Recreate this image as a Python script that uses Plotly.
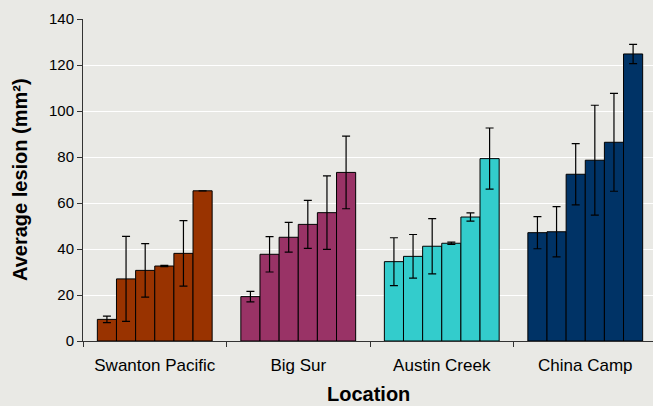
import plotly.graph_objects as go

locations = ["Swanton Pacific", "Big Sur", "Austin Creek", "China Camp"]
colors = ["#993300", "#993366", "#33CCCC", "#003366"]

swanton = [9.4, 27.0, 30.7, 32.6, 38.1, 65.3]
swanton_err = [1.4, 18.5, 11.6, 0.3, 14.2, 0.0]
big_sur = [19.3, 37.7, 45.1, 50.7, 55.8, 73.3]
big_sur_err = [2.3, 7.7, 6.5, 10.4, 16.0, 15.8]
austin = [34.5, 36.8, 41.2, 42.5, 53.9, 79.3]
austin_err = [10.4, 9.5, 12.0, 0.5, 1.8, 13.3]
china = [47.1, 47.5, 72.5, 78.6, 86.4, 124.8]
china_err = [7.0, 10.9, 13.3, 23.9, 21.3, 4.2]

y_ticks = [0, 20, 40, 60, 80, 100, 120, 140]

groups = [swanton, big_sur, austin, china]
group_errs = [swanton_err, big_sur_err, austin_err, china_err]

fig = go.Figure()
for i in range(6):
    fig.add_trace(go.Bar(
        x=locations,
        y=[g[i] for g in groups],
        error_y=dict(type="data", array=[e[i] for e in group_errs], visible=True,
                     color="black", thickness=1.2, width=4),
        marker=dict(color=colors, line=dict(color="black", width=1)),
        showlegend=False,
    ))

bg = "#e9e9e5"
fig.update_layout(
    width=653, height=406,
    margin=dict(l=83, r=0, t=19, b=65),
    paper_bgcolor=bg, plot_bgcolor=bg,
    barmode="group", bargap=0.2, bargroupgap=0,
    font=dict(family="Liberation Sans, Arial", color="black"),
    xaxis=dict(
        type="category", range=[-0.5, 3.472],
        showline=True, linecolor="#333333", linewidth=1,
        ticks="outside", tickson="boundaries", ticklen=5, tickcolor="#333333",
        tickfont=dict(size=17), ticklabelstandoff=9,
        showgrid=False, zeroline=False,
    ),
    yaxis=dict(
        range=[0, 140], tickvals=y_ticks,
        showline=True, linecolor="#333333", linewidth=1,
        ticks="outside", ticklen=5, tickcolor="#333333",
        tickfont=dict(size=15),
        showgrid=True, gridcolor="white", gridwidth=1,
        zeroline=False,
    ),
    annotations=[
        dict(text="<b>Average lesion (mm²)</b>", xref="paper", yref="paper",
             x=-0.1105, y=0.5, xanchor="center", yanchor="middle",
             textangle=-90, showarrow=False, font=dict(size=20)),
        dict(text="<b>Location</b>", xref="paper", yref="paper",
             x=0.5, y=-0.165, xanchor="center", yanchor="middle",
             showarrow=False, font=dict(size=20)),
    ],
)

fig.write_html(
    "out.html",
    config={"displayModeBar": False},
    post_script="document.body.style.margin='0';document.body.style.background='%s';" % bg,
)
